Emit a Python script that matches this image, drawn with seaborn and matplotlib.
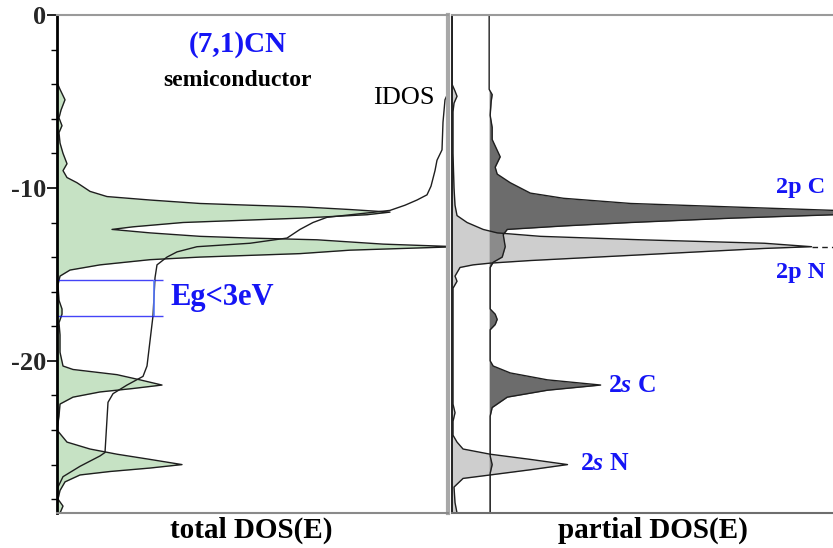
import numpy as np
import pandas as pd
import matplotlib
matplotlib.use("Agg")
import matplotlib.pyplot as plt
import seaborn as sns
from matplotlib.ticker import MultipleLocator, FixedLocator

# ---------------- data ----------------
# total DOS (arbitrary units) vs energy (eV)
tot_E = [0.0, -3.9, -4.3, -4.9, -5.5, -5.95, -6.4, -6.8, -7.4, -8.0, -8.6, -9.0, -9.4, -9.7,
         -10.2, -10.5, -10.7, -10.9, -11.0, -11.1, -11.25, -11.4, -11.55, -11.75, -12.0,
         -12.25, -12.4, -12.6, -12.8, -12.9, -13.0, -13.25, -13.4, -13.6, -13.8, -14.0,
         -14.15, -14.45, -14.75, -15.1, -15.6, -16.5, -17.0, -17.3, -17.8, -18.5, -19.5,
         -20.3, -20.5, -20.8, -21.1, -21.4, -21.6, -21.8, -22.1, -22.5, -23.2, -24.0,
         -24.7, -25.1, -25.4, -25.7, -26.0, -26.2, -26.4, -26.6, -27.0, -27.5, -28.0,
         -28.4, -28.8]
tot_dos = [0.0, 0.0, 0.3, 0.8, 0.4, 0.2, 0.5, 0.2, 0.3, 0.6, 1.0, 0.6, 1.0, 2.0,
           3.3, 5.0, 9.3, 14.3, 19.3, 24.6, 29.3, 33.3, 31.0, 24.3, 12.6,
           7.6, 5.5, 9.3, 14.3, 19.3, 26.0, 32.6, 40.0, 29.3, 24.3, 14.3,
           9.3, 4.3, 1.3, 0.3, 0.1, 0.2, 0.5, 0.5, 0.2, 0.3, 0.3,
           0.6, 1.6, 6.0, 8.3, 10.5, 7.6, 4.3, 1.6, 0.3, 0.2, 0.0,
           1.0, 3.3, 6.0, 9.3, 12.5, 9.3, 5.3, 2.3, 0.8, 0.3, 0.1,
           0.6, 0.3]

# integrated DOS
idos_E = [-4.0, -4.9, -6.2, -7.8, -8.4, -9.0, -9.9, -10.4, -10.7, -11.0, -11.3, -11.45,
          -11.7, -12.0, -12.4, -12.9, -13.2, -13.4, -13.7, -14.0, -14.45, -15.2, -17.4,
          -20.3, -20.9, -21.4, -21.9, -22.4, -25.3, -25.5, -26.1, -26.7, -27.3, -28.8]
idos = [39.5, 38.8, 38.6, 38.5, 38.0, 37.8, 37.4, 37.0, 36.0, 34.8, 33.3, 31.0,
        27.0, 25.6, 24.3, 23.0, 19.3, 14.0, 12.0, 11.0, 10.0, 9.8, 9.6,
        9.0, 8.6, 7.0, 5.6, 5.1, 4.8, 4.3, 2.3, 0.6, 0.1, 0.0]

# partial DOS, N
n_E = [0.0, -4.0, -4.4, -4.7, -5.1, -5.6, -8.0, -10.0, -11.0, -11.6, -12.0, -12.4, -12.6,
       -12.8, -13.0, -13.2, -13.4, -13.5, -13.9, -14.2, -14.35, -14.45, -14.6, -15.1,
       -15.4, -15.8, -22.5, -23.0, -23.5, -24.3, -24.7, -25.1, -25.4, -25.7, -26.0,
       -26.3, -26.6, -26.8, -27.3, -28.2, -28.8]
n_dos = [0.0, 0.0, 0.3, 0.5, 0.2, 0.1, 0.1, 0.2, 0.3, 0.5, 1.5, 3.1, 4.5,
         8.8, 18.8, 31.1, 35.8, 31.1, 17.8, 7.8, 3.8, 2.1, 0.8, 0.3,
         0.5, 0.1, 0.1, 0.3, 0.1, 0.1, 0.5, 1.1, 3.8, 7.8, 11.5,
         7.8, 3.8, 1.1, 0.2, 0.3, 0.5]

# partial DOS, C
c_E = [0.0, -4.3, -4.6, -5.0, -5.8, -6.5, -7.2, -8.2, -8.8, -9.2, -9.7, -10.3, -10.6,
       -10.9, -11.1, -11.3, -11.42, -11.55, -11.75, -12.0, -12.2, -12.4, -12.7, -13.4,
       -14.0, -14.3, -14.6, -17.0, -17.3, -17.6, -17.9, -18.2, -20.0, -20.3, -20.7,
       -21.1, -21.4, -21.7, -22.1, -22.7, -23.2, -25.5, -26.0, -26.5, -28.8]
c_dos = [0.0, 0.0, 0.3, 0.2, 0.1, 0.3, 0.3, 1.1, 0.6, 0.8, 2.1, 4.1, 7.4,
         14.1, 24.1, 34.4, 40.0, 34.4, 24.1, 14.1, 7.4, 1.8, 1.4, 1.6,
         1.3, 0.4, 0.1, 0.1, 0.6, 0.8, 0.6, 0.1, 0.1, 0.4, 2.1,
         5.8, 11.1, 5.8, 1.8, 0.3, 0.1, 0.1, 0.3, 0.1, 0.1]

# ---------------- style ----------------
sns.set_theme(style="white")
plt.rcParams["font.family"] = ["Liberation Serif", "DejaVu Serif"]
plt.rcParams["axes.unicode_minus"] = False
plt.rcParams["mathtext.fontset"] = "custom"
plt.rcParams["mathtext.rm"] = "Liberation Serif:bold"
plt.rcParams["mathtext.it"] = "Liberation Serif:italic:bold"

W, H = 833, 548
fig = plt.figure(figsize=(W / 100, H / 100), dpi=100)

def fx(px):
    return px / W

def fy(py):
    return 1 - py / H

ax1 = fig.add_axes([fx(57), fy(513), fx(448 - 57), (513 - 15) / H])
ax2 = fig.add_axes([fx(452), fy(513), fx(W - 452) + 0.002, (513 - 15) / H])

GREEN = "#c6e2c4"
DARK = "#6c6c6c"
LIGHT = "#a6a6a6"
LINE = "#1e1e1e"
BLUE = "#1515f5"

ymin, ymax = -28.8, 0.0

# ---- left panel: total DOS ----
tot = pd.DataFrame({"E": tot_E, "dos": tot_dos})
ax1.fill_betweenx(tot["E"], 0, tot["dos"], color=GREEN, linewidth=0)
sns.lineplot(data=tot, x="dos", y="E", orient="y", sort=False, ax=ax1,
             color=LINE, linewidth=1.0, estimator=None)
idf = pd.DataFrame({"E": idos_E, "idos": idos})
sns.lineplot(data=idf, x="idos", y="E", orient="y", sort=False, ax=ax1,
             color=LINE, linewidth=1.0, estimator=None)

ax1.set_xlim(0, 39.1)
ax1.set_ylim(ymin, ymax)
ax1.set_xticks([])
ax1.yaxis.set_major_locator(FixedLocator([0, -10, -20]))
ax1.yaxis.set_minor_locator(MultipleLocator(2))
ax1.tick_params(axis="y", which="major", left=True, length=7, width=1.2,
                color="black", pad=1, labelsize=19)
ax1.tick_params(axis="y", which="minor", left=True, length=4, width=1.0, color="black")
for lab in ax1.get_yticklabels():
    lab.set_fontweight("bold")
ax1.set_xlabel("")
ax1.set_ylabel("")
ax1.spines["left"].set_color("black")
ax1.spines["left"].set_linewidth(2.0)
ax1.spines["top"].set_color("#9a9a9a")
ax1.spines["top"].set_linewidth(1.5)
ax1.spines["bottom"].set_color("#8a8a8a")
ax1.spines["bottom"].set_linewidth(1.5)
ax1.spines["right"].set_color("#a8a8a8")
ax1.spines["right"].set_linewidth(3.0)
ax1.patch.set_alpha(0)

# band gap markers
gap_top, gap_bot = -15.3, -17.4
ax1.hlines([gap_top, gap_bot], 0, 10.6, color=BLUE, linewidth=1.0, alpha=0.8)
ax1.vlines(9.7, gap_bot, gap_top, color="#5a7cff", linewidth=1.2)

# ---- right panel: partial DOS ----
c_off = 3.7
cdf = pd.DataFrame({"E": c_E, "dos": np.array(c_dos) + c_off})
ndf = pd.DataFrame({"E": n_E, "dos": n_dos})
ax2.fill_betweenx(cdf["E"], c_off, cdf["dos"], color=DARK, linewidth=0)
ax2.fill_betweenx(ndf["E"], 0, ndf["dos"], color=LIGHT, alpha=0.55, linewidth=0)
sns.lineplot(data=cdf, x="dos", y="E", orient="y", sort=False, ax=ax2,
             color=LINE, linewidth=1.0, estimator=None)
sns.lineplot(data=ndf, x="dos", y="E", orient="y", sort=False, ax=ax2,
             color=LINE, linewidth=1.0, estimator=None)
xr = 38.1
ipk = int(np.argmax(n_dos))
ax2.hlines(n_E[ipk], n_dos[ipk], xr + 1, color=LINE, linewidth=1.0,
           linestyles=(0, (4, 3)))
ax2.set_xlim(0, xr)
ax2.set_ylim(ymin, ymax)
ax2.set_xticks([])
ax2.set_yticks([])
ax2.set_xlabel("")
ax2.set_ylabel("")
ax2.spines["left"].set_color("#222222")
ax2.spines["left"].set_linewidth(1.4)
ax2.spines["top"].set_color("#9a9a9a")
ax2.spines["top"].set_linewidth(1.5)
ax2.spines["bottom"].set_color("#6e6e6e")
ax2.spines["bottom"].set_linewidth(1.5)
ax2.spines["right"].set_visible(False)
ax2.patch.set_alpha(0)

# ---- texts ----
fig.text(fx(238), fy(45), "(7,1)CN", color=BLUE, fontsize=21, fontweight="bold",
         ha="center", va="center")
fig.text(fx(237), fy(80), "semiconductor", color="black", fontsize=17,
         fontweight="bold", ha="center", va="center")
fig.text(fx(404), fy(98), "IDOS", color="black", fontsize=19, ha="center", va="center")
fig.text(fx(222), fy(297), "Eg<3eV", color=BLUE, fontsize=22, fontweight="bold",
         ha="center", va="center")
fig.text(fx(801), fy(188), "2p C", color=BLUE, fontsize=17.5, fontweight="bold",
         ha="center", va="center")
fig.text(fx(801), fy(272), "2p N", color=BLUE, fontsize=17.5, fontweight="bold",
         ha="center", va="center")
fig.text(fx(632), fy(385), r"2$\mathit{s}$ C", color=BLUE, fontsize=18.5,
         fontweight="bold", ha="center", va="center")
fig.text(fx(605), fy(463), r"2$\mathit{s}$ N", color=BLUE, fontsize=18.5,
         fontweight="bold", ha="center", va="center")
fig.text(fx(251), fy(530), "total DOS(E)", color="black", fontsize=21,
         fontweight="bold", ha="center", va="center")
fig.text(fx(653), fy(530), "partial DOS(E)", color="black", fontsize=21,
         fontweight="bold", ha="center", va="center")

fig.savefig("out.png", dpi=100)
